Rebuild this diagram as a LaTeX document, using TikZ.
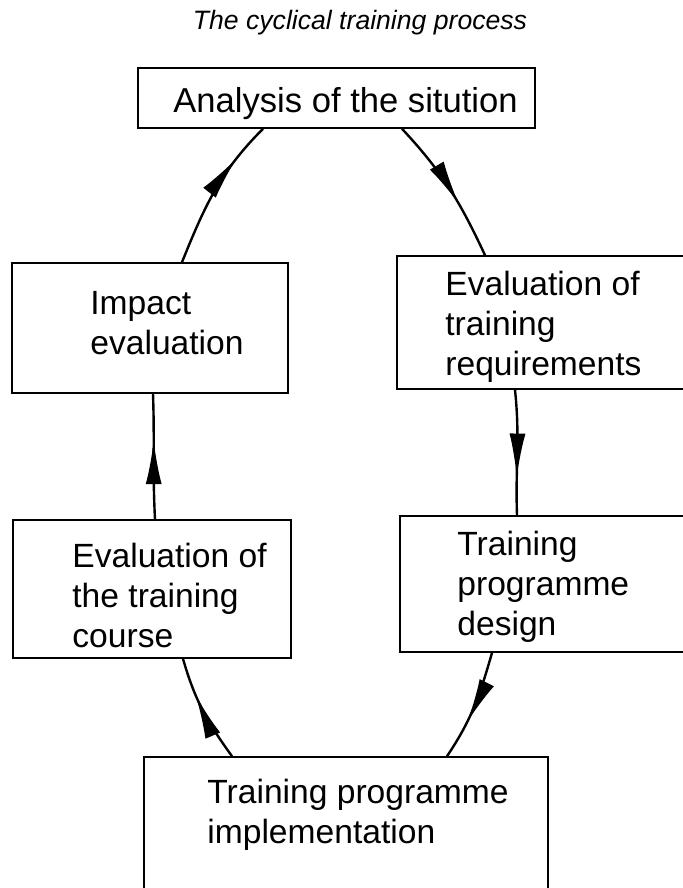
\documentclass[tikz,border=0pt]{standalone}
\usepackage{fontspec}
\setmainfont{Liberation Sans}
\usetikzlibrary{arrows.meta,decorations.markings}
\tikzset{
  box/.style={draw, line width=0.8pt, inner sep=0pt},
  boxtext/.style={anchor=north west, inner sep=0pt, align=left, font=\fontsize{16.8}{20}\selectfont},
  flow/.style={line width=1.2pt, postaction={decorate},
    decoration={markings, mark=at position #1 with {\arrow{Latex[length=22pt,width=8pt]}}}},
}
\begin{document}
\begin{tikzpicture}[x=0.5pt, y=-0.5pt]
\useasboundingbox (0,0) rectangle (683,888);
\clip (0,0) rectangle (683,888);

% Title
\node (title) [anchor=base, inner sep=0pt, font=\fontsize{13.3}{16}\selectfont\itshape] at (360,30) {The cyclical training process};

% Box analysis
\node (analysis) [box, minimum width=198.5pt, minimum height=30pt] at (336.5,98) {};
\node (analysis-t) [boxtext, font=\fontsize{17.3}{20}\selectfont] at (173,87) {Analysis of the sitution};

% Box evaluation of requirements
\node (evalreq) [box, minimum width=151.5pt, minimum height=66.5pt] at (548.5,322.5) {};
\node (evalreq-t) [boxtext] at (445,271) {Evaluation of\\training\\requirements};

% Box programme design
\node (design) [box, minimum width=150pt, minimum height=68pt] at (550,584) {};
\node (design-t) [boxtext] at (457,531) {Training\\programme\\design};

% Box implementation
\node (impl) [box, minimum width=202pt, minimum height=71.5pt] at (346,828.5) {};
\node (impl-t) [boxtext] at (207,779) {Training programme\\implementation};

% Box evaluation of course
\node (course) [box, minimum width=139pt, minimum height=69pt] at (152,589) {};
\node (course-t) [boxtext] at (72,543) {Evaluation of\\the training\\course};

% Box impact evaluation
\node (impact) [box, minimum width=138pt, minimum height=65pt] at (150,328) {};
\node (impact-t) [boxtext] at (90,291) {Impact\\evaluation};

% Cycle of arrows
\draw [flow=0.62] ([xshift=32.75pt]analysis.south) to[out=-47, in=115] ([xshift=-31.75pt]evalreq.north);
\draw [flow=0.7] ([xshift=-16.75pt]evalreq.south) to[out=-84, in=92] ([xshift=-16.5pt]design.north);
\draw [flow=0.65] ([xshift=-29pt]design.south) to[out=-106, in=56] ([xshift=50.5pt]impl.north);
\draw [flow=0.65] ([xshift=-57pt]impl.north) to[out=126, in=-74] ([xshift=15.5pt]course.south);
\draw [flow=0.63] ([xshift=1.5pt]course.north) to[out=93, in=-88] ([xshift=1.5pt]impact.south);
\draw [flow=0.75] ([xshift=16pt]impact.north) to[out=68, in=-135] ([xshift=-36.75pt]analysis.south);
\end{tikzpicture}
\end{document}
